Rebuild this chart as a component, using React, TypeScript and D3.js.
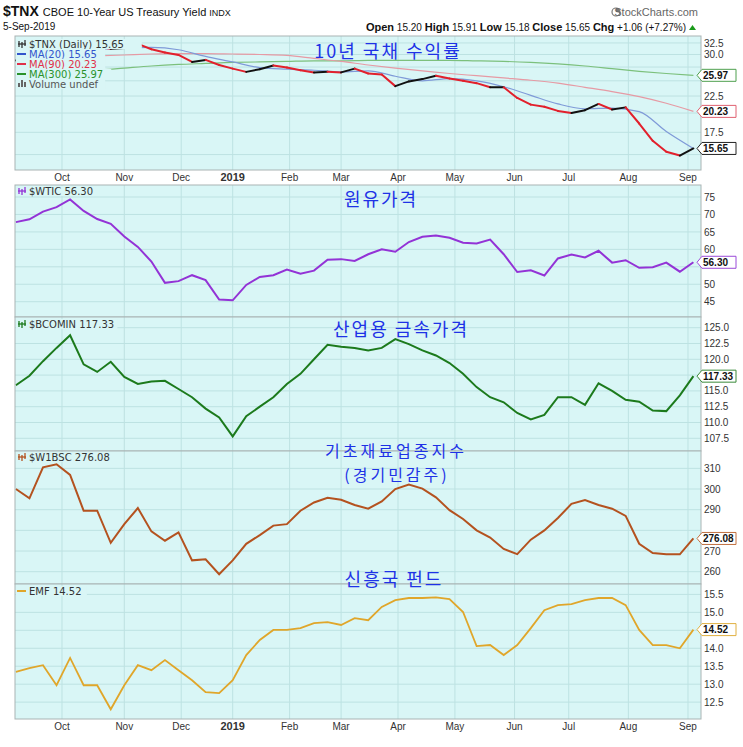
import React from "react";
import * as d3 from "d3";

// trading calendar
const startDay = new Date(2018, 8, 6);
const endDay = new Date(2019, 8, 6);
const holidays = ["2018-11-22", "2018-12-05", "2018-12-25", "2019-01-01", "2019-01-21", "2019-02-18", "2019-04-19", "2019-05-27", "2019-07-04", "2019-09-02"];
const monthLabels = ["Oct", "Nov", "Dec", "2019", "Feb", "Mar", "Apr", "May", "Jun", "Jul", "Aug", "Sep"];

// one close every 5 trading days (last = 5-Sep-2019)
const tnx = [28.8, 29.7, 30.7, 30.5, 31.9, 31.5, 31.7, 31.2, 31.4, 32.3, 31.1, 30.4, 29.9, 28.5, 28.9, 27.9, 27.2, 26.6, 27.1, 27.8, 27.4, 26.9, 26.5, 26.6, 26.5, 27.2, 26.3, 26.1, 24.1, 24.9, 25.3, 25.9, 25.4, 25.0, 24.6, 23.9, 23.9, 22.2, 21.2, 20.9, 20.3, 20.0, 20.4, 21.3, 20.5, 20.8, 18.6, 16.5, 15.3, 14.9, 15.65];
// moving averages, one value every 10 trading days
const ma20 = [28.9, 29.2, 30.0, 31.0, 31.4, 31.5, 31.0, 29.6, 28.5, 27.4, 27.1, 26.9, 26.6, 26.8, 25.8, 25.0, 25.4, 25.0, 24.0, 22.6, 21.3, 20.6, 20.7, 20.2, 17.6, 15.65];
const ma90 = [28.8, 29.1, 29.4, 29.7, 29.9, 30.1, 30.2, 30.2, 30.1, 30.0, 29.8, 29.2, 28.6, 27.9, 27.3, 26.8, 26.3, 25.9, 25.5, 25.1, 24.6, 23.9, 23.2, 22.4, 21.4, 20.23];
const ma300 = [26.0, 26.4, 26.7, 26.9, 27.3, 27.7, 28.0, 28.2, 28.4, 28.5, 28.6, 28.7, 28.7, 28.8, 28.8, 28.8, 28.8, 28.7, 28.6, 28.4, 28.1, 27.7, 27.2, 26.7, 26.3, 25.97];

const wtic = [67.8, 68.6, 70.8, 72.1, 74.3, 71.0, 68.7, 67.3, 63.7, 60.7, 56.5, 50.4, 50.9, 52.6, 51.2, 45.6, 45.4, 49.8, 52.1, 52.6, 54.2, 53.0, 53.9, 57.0, 57.2, 56.7, 58.6, 60.0, 59.3, 62.1, 63.6, 64.0, 63.3, 61.9, 61.7, 62.8, 58.6, 53.5, 54.0, 52.5, 57.4, 58.5, 57.7, 59.6, 56.2, 56.9, 54.7, 54.9, 56.2, 53.6, 56.3];
const bcomin = [115.9, 117.4, 119.7, 121.8, 123.8, 119.2, 118.0, 119.6, 117.2, 116.1, 116.5, 116.6, 115.3, 114.0, 112.2, 110.8, 107.8, 111.0, 112.5, 114.0, 116.1, 117.7, 120.0, 122.3, 122.0, 121.8, 121.4, 121.8, 123.2, 122.4, 121.4, 120.6, 119.4, 117.7, 115.6, 114.0, 113.2, 111.5, 110.5, 111.2, 114.0, 114.0, 112.8, 116.2, 115.0, 113.6, 113.3, 111.9, 111.8, 114.3, 117.33];
const w1bsc = [300.0, 295.5, 310.5, 312.0, 306.8, 289.5, 289.5, 274.0, 283.0, 290.8, 279.5, 275.0, 279.0, 265.5, 266.0, 258.8, 265.5, 273.5, 277.7, 282.3, 283.0, 289.5, 293.5, 295.8, 294.8, 292.3, 290.5, 294.0, 300.0, 302.2, 300.2, 296.0, 289.8, 285.5, 280.0, 276.5, 271.0, 268.5, 275.5, 280.0, 286.0, 292.8, 294.7, 292.3, 290.5, 287.0, 273.5, 269.0, 268.5, 268.4, 276.08];
const emf = [13.34, 13.45, 13.53, 12.97, 13.73, 12.97, 12.97, 12.3, 12.97, 13.53, 13.39, 13.67, 13.39, 13.11, 12.78, 12.75, 13.11, 13.81, 14.23, 14.51, 14.51, 14.56, 14.70, 14.73, 14.65, 14.84, 14.78, 15.15, 15.34, 15.40, 15.40, 15.42, 15.37, 15.01, 14.06, 14.09, 13.81, 14.09, 14.56, 15.06, 15.20, 15.23, 15.34, 15.40, 15.40, 15.20, 14.51, 14.09, 14.09, 14.00, 14.52];

const tnxTicks = [15, 17.5, 20, 22.5, 25, 27.5, 30, 32.5];
const wticTicks = [45, 50, 55, 60, 65, 70, 75];
const bcominTicks = [107.5, 110, 112.5, 115, 117.5, 120, 122.5, 125];
const w1bscTicks = [260, 270, 280, 290, 300, 310];
const emfTicks = [12.5, 13, 13.5, 14, 14.5, 15, 15.5];

const PLOT = "#d9f6f6";
const GRID = "#bde2e2";
const L = 15, R = 701;
const AX = "Liberation Sans, Arial, sans-serif";
const NARROW = "Liberation Sans Narrow, Arial Narrow, Liberation Sans, sans-serif";
const LEG = "DejaVu Sans, Verdana, sans-serif";
const KR = "Noto Sans CJK KR, sans-serif";

const fmtDay = d3.timeFormat("%Y-%m-%d");
const days = d3.timeDay.range(startDay, endDay).filter(d => d.getDay() !== 0 && d.getDay() !== 6 && !holidays.includes(fmtDay(d)));
const last = days.length - 1;
const x = d3.scaleLinear().domain([0, last]).range([15.9, 693.4]);
const monthIdx: number[] = [];
days.forEach((d, i) => { if (i > 0 && d.getMonth() !== days[i - 1].getMonth()) monthIdx.push(i); });

const pts = (vals: number[], step: number) => vals.map((v, i) => [Math.min(i * step, last), v] as [number, number]);

function Tag({ y, text, color }: { y: number; text: string; color: string }) {
  const x0 = 697, w = 39, h = 6;
  return (
    <g>
      <path d={`M${x0},${y} L${x0 + 5},${y - h} L${x0 + w},${y - h} L${x0 + w},${y + h} L${x0 + 5},${y + h} Z`} fill="#fff" stroke={color} strokeWidth={1} />
      <text x={x0 + 6} y={y} dy="0.36em" fontFamily={AX} fontSize={10} fontWeight="bold" fill="#111">{text}</text>
    </g>
  );
}

// tick labels that sit under a price tag are hidden by it, as on the original
function Panel({ id, top, bottom, y, ticks, fmt, tags, children }: any) {
  const free = (t: number) => tags.every((v: number) => Math.abs(y(v) - y(t)) > 10);
  return (
    <g>
      <clipPath id={id}><rect x={L} y={top} width={R - L} height={bottom - top} /></clipPath>
      <rect x={L} y={top} width={R - L} height={bottom - top} fill={PLOT} />
      {ticks.map((t: number) => <line key={"h" + t} x1={L} x2={R} y1={y(t)} y2={y(t)} stroke={GRID} />)}
      {monthIdx.map(i => <line key={"v" + i} x1={x(i)} x2={x(i)} y1={top} y2={bottom} stroke={GRID} />)}
      <g clipPath={`url(#${id})`}>{children}</g>
      <rect x={L} y={top} width={R - L} height={bottom - top} fill="none" stroke="#a9b4b4" />
      {ticks.filter(free).map((t: number) => (
        <text key={"t" + t} x={704} y={y(t)} dy="0.36em" fontFamily={AX} fontSize={10} fill="#333">{fmt(t)}</text>
      ))}
    </g>
  );
}

function Legend({ x0, y0, rows }: { x0: number; y0: number; rows: { label: string; color: string; icon: string; tc?: string }[] }) {
  return (
    <g fontFamily={LEG} fontSize={10}>
      {rows.map((r, i) => {
        const yy = y0 + i * 10;
        const w = r.label.length * 6.1 + 16;
        return (
          <g key={i}>
            <rect x={x0 - 1} y={yy - 5} width={w} height={10} fill={PLOT} />
            {r.icon === "bar" ? (
              <g stroke={r.color} strokeWidth={1.3}>
                <line x1={x0 + 2} x2={x0 + 2} y1={yy - 3} y2={yy + 3} />
                <line x1={x0 + 5} x2={x0 + 5} y1={yy - 2} y2={yy + 4} />
                <line x1={x0 + 8} x2={x0 + 8} y1={yy - 4} y2={yy + 2} />
                <line x1={x0 + 1} x2={x0 + 9} y1={yy} y2={yy} />
              </g>
            ) : r.icon === "vol" ? (
              <g fill={r.color}>
                <rect x={x0 + 1} y={yy - 1} width={2} height={4} />
                <rect x={x0 + 4} y={yy - 4} width={2} height={7} />
                <rect x={x0 + 7} y={yy - 2} width={2} height={5} />
              </g>
            ) : (
              <line x1={x0} x2={x0 + 9} y1={yy} y2={yy} stroke={r.color} strokeWidth={2} />
            )}
            <text x={x0 + 12} y={yy} dy="0.36em" fill={r.tc || "#333"}>{r.label}</text>
          </g>
        );
      })}
    </g>
  );
}

function MonthAxis({ yy }: { yy: number }) {
  return (
    <g fontFamily={NARROW} fontSize={10} fill="#333" textAnchor="middle">
      {monthIdx.map((i, k) => (
        <text key={i} x={x(i)} y={yy} fontWeight={monthLabels[k] === "2019" ? "bold" : "normal"} fontSize={monthLabels[k] === "2019" ? 11 : 10}>{monthLabels[k]}</text>
      ))}
    </g>
  );
}

export default function App() {
  const y1 = d3.scaleLog().domain([13.48, 34.1]).range([170, 36]);
  const y2 = d3.scaleLinear().domain([40.62, 78.44]).range([317, 185]);
  const y3 = d3.scaleLinear().domain([105.49, 126.69]).range([451, 317]);
  const y4 = d3.scaleLinear().domain([254.05, 318.4]).range([584, 451]);
  const y5 = d3.scaleLinear().domain([12.03, 15.79]).range([719, 584]);

  const lineOf = (y: any, curve = d3.curveLinear) => d3.line<[number, number]>().x(d => x(d[0])).y(d => y(d[1])).curve(curve);
  const tnxPts = pts(tnx, 5);
  const smooth = d3.curveMonotoneX;

  const kr = { fontFamily: KR, fontSize: 18, fill: "#1e32e6", textAnchor: "middle" as const, letterSpacing: 2 };

  return (
    <svg width={743} height={747} style={{ display: "block", position: "absolute", left: 0, top: 0, background: "#fff" }}>
      {/* header */}
      <text x={3} y={16} fontFamily={NARROW} fill="#111">
        <tspan fontSize={14} fontWeight="bold">$TNX</tspan>
        <tspan fontSize={11} dx={4}>CBOE 10-Year US Treasury Yield</tspan>
        <tspan fontSize={9} dx={3}>INDX</tspan>
      </text>
      <text x={3} y={30} fontFamily={NARROW} fontSize={10} fill="#111">5-Sep-2019</text>
      <g>
        <circle cx={616} cy={12} r={4} fill="none" stroke="#777" strokeWidth={1.2} />
        <path d="M616,12 L616,8 A4,4 0 0 1 620,12 Z" fill="#777" />
        <text x={698} y={16} textAnchor="end" fontFamily={NARROW} fontSize={11} fill="#666">StockCharts.com</text>
      </g>
      <text x={686} y={31} textAnchor="end" fontFamily={NARROW} fontSize={10} fill="#111">
        <tspan fontWeight="bold" fontSize={11}>Open</tspan><tspan> 15.20 </tspan>
        <tspan fontWeight="bold" fontSize={11}>High</tspan><tspan> 15.91 </tspan>
        <tspan fontWeight="bold" fontSize={11}>Low</tspan><tspan> 15.18 </tspan>
        <tspan fontWeight="bold" fontSize={11}>Close</tspan><tspan> 15.65 </tspan>
        <tspan fontWeight="bold" fontSize={11}>Chg</tspan><tspan> +1.06 (+7.27%)</tspan>
      </text>
      <path d="M689,30 L696,30 L692.5,25 Z" fill="#1a9a1a" />

      {/* panel 1 */}
      <Panel id="c1" top={36} bottom={170} y={y1} ticks={tnxTicks} fmt={d3.format(".1f")} tags={[25.97, 20.23, 15.65]}>
        <path d={lineOf(y1, smooth)(pts(ma300, 10))!} fill="none" stroke="#7cc07c" strokeWidth={1.2} />
        <path d={lineOf(y1, smooth)(pts(ma90, 10))!} fill="none" stroke="#e69aa4" strokeWidth={1.2} />
        <path d={lineOf(y1, smooth)(pts(ma20, 10))!} fill="none" stroke="#7f9ad8" strokeWidth={1.2} />
        {tnxPts.slice(1).map((p, i) => {
          const q = tnxPts[i];
          return <line key={i} x1={x(q[0])} y1={y1(q[1])} x2={x(p[0])} y2={y1(p[1])} stroke={p[1] < q[1] ? "#e2202c" : "#111"} strokeWidth={2} strokeLinecap="round" />;
        })}
      </Panel>
      <Legend x0={17} y0={44} rows={[
        { label: "$TNX (Daily) 15.65", color: "#333", icon: "bar" },
        { label: "MA(20) 15.65", color: "#3355cc", icon: "line", tc: "#3355cc" },
        { label: "MA(90) 20.23", color: "#e0304a", icon: "line", tc: "#e0304a" },
        { label: "MA(300) 25.97", color: "#2a922a", icon: "line", tc: "#2a922a" },
        { label: "Volume undef", color: "#666", icon: "vol", tc: "#555" },
      ]} />
      <Tag y={y1(25.97)} text="25.97" color="#4fa04f" />
      <Tag y={y1(20.23)} text="20.23" color="#e06070" />
      <Tag y={y1(15.65)} text="15.65" color="#222" />
      <MonthAxis yy={181} />

      {/* panel 2 */}
      <Panel id="c2" top={185} bottom={317} y={y2} ticks={wticTicks} fmt={d3.format("d")} tags={[56.3]}>
        <path d={lineOf(y2)(pts(wtic, 5))!} fill="none" stroke="#9333d6" strokeWidth={2} />
      </Panel>
      <Legend x0={17} y0={191} rows={[{ label: "$WTIC 56.30", color: "#9333d6", icon: "bar" }]} />
      <Tag y={y2(56.3)} text="56.30" color="#9a4ad8" />

      {/* panel 3 */}
      <Panel id="c3" top={317} bottom={451} y={y3} ticks={bcominTicks} fmt={d3.format(".1f")} tags={[117.33]}>
        <path d={lineOf(y3)(pts(bcomin, 5))!} fill="none" stroke="#1c7a1c" strokeWidth={2} />
      </Panel>
      <Legend x0={17} y0={324} rows={[{ label: "$BCOMIN 117.33", color: "#1c7a1c", icon: "bar" }]} />
      <Tag y={y3(117.33)} text="117.33" color="#3a8a3a" />

      {/* panel 4 */}
      <Panel id="c4" top={451} bottom={584} y={y4} ticks={w1bscTicks} fmt={d3.format("d")} tags={[276.08]}>
        <path d={lineOf(y4)(pts(w1bsc, 5))!} fill="none" stroke="#b4521f" strokeWidth={2} />
      </Panel>
      <Legend x0={17} y0={457} rows={[{ label: "$W1BSC 276.08", color: "#b4521f", icon: "bar" }]} />
      <Tag y={y4(276.08)} text="276.08" color="#c07040" />

      {/* panel 5 */}
      <Panel id="c5" top={584} bottom={719} y={y5} ticks={emfTicks} fmt={d3.format(".1f")} tags={[14.52]}>
        <path d={lineOf(y5)(pts(emf, 5))!} fill="none" stroke="#e0a62a" strokeWidth={1.8} />
      </Panel>
      <Legend x0={17} y0={591} rows={[{ label: "EMF 14.52", color: "#e0a62a", icon: "line" }]} />
      <Tag y={y5(14.52)} text="14.52" color="#e0b040" />
      <MonthAxis yy={730} />

      {/* annotations */}
      <text x={388} y={58} {...kr}>10년 국채 수익률</text>
      <text x={381} y={206} {...kr}>원유가격</text>
      <text x={401} y={336} {...kr}>산업용 금속가격</text>
      <text x={396} y={457} {...kr} fontSize={16} letterSpacing={3}>기초재료업종지수</text>
      <text x={397} y={481} {...kr} fontSize={16} letterSpacing={3}>(경기민감주)</text>
      <text x={394} y={586} {...kr}>신흥국 펀드</text>
    </svg>
  );
}
